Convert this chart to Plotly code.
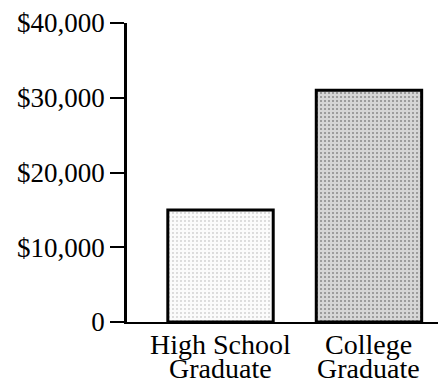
import plotly.graph_objects as go

categories = ["High School|Graduate", "College|Graduate"]
incomes = [15000, 31000]
bar_colors = ["#fbfbfb", "#d6d6d6"]
tick_values = [0, 10000, 20000, 30000, 40000]
tick_labels = ["0", "$10,000", "$20,000", "$30,000", "$40,000"]

FONT = "Liberation Serif"

fig = go.Figure()
fig.add_trace(go.Bar(
    x=categories,
    y=incomes,
    width=0.71,
    marker=dict(color=bar_colors, line=dict(color="black", width=3),
                pattern=dict(shape=".", fgcolor=["#999999", "#666666"], size=4,
                             solidity=[0.08, 0.22])),
))

for cat in categories:
    line1, line2 = cat.split("|")
    fig.add_annotation(x=cat, y=0, xref="x", yref="y", text=line1, showarrow=False,
                       yanchor="top", yshift=-5, font=dict(family=FONT, size=28, color="black"))
    fig.add_annotation(x=cat, y=0, xref="x", yref="y", text=line2, showarrow=False,
                       yanchor="top", yshift=-29, font=dict(family=FONT, size=28, color="black"))

fig.update_layout(
    width=448, height=383,
    margin=dict(l=127, r=10, t=23, b=61),
    paper_bgcolor="white", plot_bgcolor="white",
    showlegend=False,
    bargap=0.3,
)
fig.update_xaxes(range=[-0.63, 1.465], showticklabels=False, ticks="", automargin=False,
                 showline=True, linecolor="black", linewidth=2, showgrid=False, zeroline=False)
fig.update_yaxes(range=[0, 40000], tickvals=tick_values, ticktext=tick_labels, automargin=False,
                 ticks="outside", ticklen=14, tickwidth=2, tickcolor="black",
                 showline=True, linecolor="black", linewidth=2.5, showgrid=False, zeroline=False,
                 tickfont=dict(family=FONT, size=27, color="black"))

fig.write_html("out.html", config={"displayModeBar": False},
               post_script="document.body.style.margin='0';document.body.style.overflow='hidden';")
